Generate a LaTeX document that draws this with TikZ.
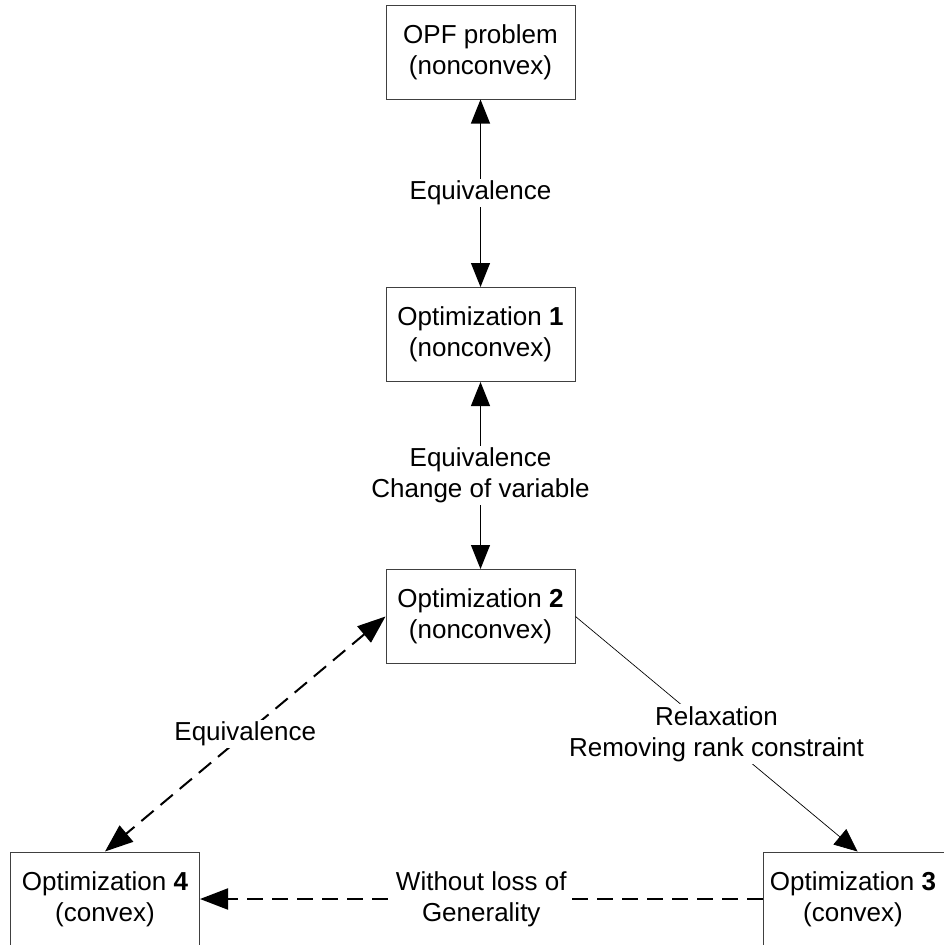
\documentclass[tikz,border=0pt]{standalone}
\usepackage{fontspec}
\setmainfont{Liberation Sans}
\usetikzlibrary{arrows.meta}
\begin{document}
\begin{tikzpicture}[x=1pt,y=-1pt,
  box/.style={draw=black!75,line width=1pt,minimum width=189pt,minimum height=94pt,align=center,inner sep=0pt,font=\fontsize{26}{31}\selectfont},
  lbl/.style={fill=white,align=center,inner sep=2pt,font=\fontsize{26}{31}\selectfont},
  stip/.tip={Triangle[length=24pt,width=19pt]},
  dtip/.tip={Triangle[length=28pt,width=21pt]},
  biarrow/.style={line width=1.1pt,stip-stip},
  dasharrow/.style={line width=2pt,dash pattern=on 16pt off 9pt}
]
\useasboundingbox (0,0) rectangle (944,945);
\node[box] (opf) at (480.5,52) {OPF problem\\(nonconvex)};
\node[box] (o1) at (480.5,334.5) {Optimization \textbf{1}\\(nonconvex)};
\node[box] (o2) at (480.5,616.5) {Optimization \textbf{2}\\(nonconvex)};
\node[box] (o4) at (105,899) {Optimization \textbf{4}\\(convex)};
\node[box] (o3) at (857.5,899) {Optimization \textbf{3}\hspace*{9pt}\\(convex)\hspace*{9pt}};
\draw[biarrow] (opf.south) -- node[lbl] {Equivalence} (o1.north);
\draw[biarrow] (o1.south) -- node[lbl] {Equivalence\\Change of variable} (o2.north);
\draw[dasharrow,dtip-dtip] (o2.west) -- node[lbl] {Equivalence} (o4.north);
\draw[line width=0.7pt,-{Triangle[length=23pt,width=20pt]}] (o2.east) -- node[lbl] {Relaxation\\Removing rank constraint} (o3.north);
\draw[dasharrow,-dtip] (o3.west) -- node[lbl,inner sep=1pt] {Without loss of\\Generality} (o4.east);
\end{tikzpicture}
\end{document}
